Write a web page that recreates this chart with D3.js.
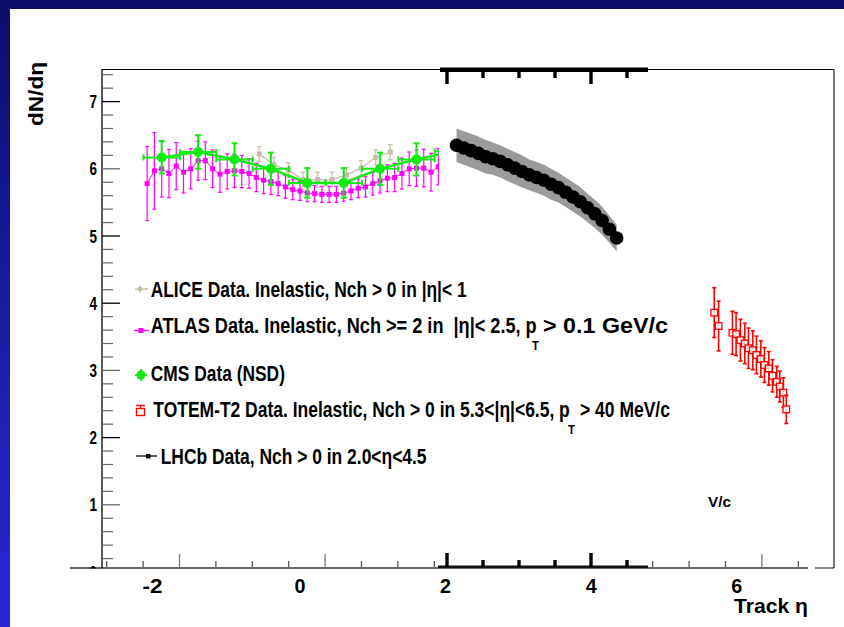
<!DOCTYPE html>
<html><head><meta charset="utf-8">
<script src="https://cdn.jsdelivr.net/npm/d3@7"></script>
<style>
html,body{margin:0;padding:0;background:#fff;}
svg{display:block;}
text{font-family:"Liberation Sans",Arial,Helvetica,sans-serif;font-weight:bold;white-space:pre;fill:#000;}
</style>
</head><body>
<svg id="c" width="844" height="627"></svg>
<script>
// ---------------- data ----------------
const xTickLabels = [-2, 0, 2, 4, 6];
const yTickLabels = [0, 1, 2, 3, 4, 5, 6, 7];

const cmsEta = [-1.9, -1.4, -0.9, -0.4, 0.1, 0.6, 1.1, 1.6, 2.1];
const cmsVal = [6.17, 6.25, 6.14, 6.00, 5.79, 5.79, 6.00, 6.14, 6.26];
const cmsErr = [0.24, 0.25, 0.24, 0.24, 0.22, 0.22, 0.24, 0.24, 0.24];

const aliceEta = [-0.56, -0.36, -0.16, 0.04, 0.24, 0.44, 0.64, 0.84, 1.04, 1.24];
const aliceVal = [6.22, 6.06, 5.98, 5.84, 5.84, 5.84, 5.91, 6.01, 6.17, 6.25];
const aliceErr = [0.11, 0.11, 0.11, 0.11, 0.11, 0.11, 0.11, 0.11, 0.11, 0.11];

const atlasEta = [-2.1, -2.0, -1.9, -1.8, -1.7, -1.6, -1.5, -1.4, -1.3, -1.2, -1.1, -1.0, -0.9, -0.8, -0.7, -0.6, -0.5, -0.4, -0.3, -0.2, -0.1,
                  0.0, 0.1, 0.2, 0.3, 0.4, 0.5, 0.6, 0.7, 0.8, 0.9, 1.0, 1.1, 1.2, 1.3, 1.4, 1.5, 1.6, 1.7, 1.8, 1.9];
const atlasVal = [5.78, 5.97, 6.00, 5.93, 6.04, 5.95, 6.00, 6.12, 6.12, 6.00, 5.92, 5.96, 5.97, 5.96, 5.93, 5.87, 5.83, 5.81, 5.78, 5.73, 5.69,
                  5.67, 5.64, 5.63, 5.62, 5.62, 5.62, 5.64, 5.67, 5.71, 5.73, 5.78, 5.82, 5.86, 5.87, 5.93, 6.00, 6.01, 6.01, 5.95, 6.03];
const atlasErr = [0.55, 0.57, 0.42, 0.36, 0.35, 0.31, 0.30, 0.29, 0.28, 0.28, 0.27, 0.26, 0.25, 0.24, 0.22, 0.21, 0.20, 0.19, 0.18, 0.17, 0.15,
                  0.14, 0.13, 0.12, 0.12, 0.12, 0.12, 0.12, 0.13, 0.14, 0.15, 0.17, 0.18, 0.20, 0.21, 0.23, 0.25, 0.27, 0.28, 0.28, 0.27];

const lhcbEta = [2.15, 2.25, 2.35, 2.45, 2.55, 2.65, 2.75, 2.85, 2.95, 3.05, 3.15, 3.25, 3.35, 3.45, 3.55, 3.65, 3.75, 3.85, 3.95, 4.05, 4.15, 4.25, 4.35];
const lhcbVal = [6.35, 6.31, 6.27, 6.23, 6.18, 6.15, 6.11, 6.06, 6.01, 5.96, 5.91, 5.87, 5.83, 5.77, 5.72, 5.65, 5.58, 5.51, 5.42, 5.33, 5.23, 5.10, 4.97];
const lhcbErr = [0.25, 0.25, 0.25, 0.25, 0.25, 0.24, 0.24, 0.24, 0.24, 0.24, 0.23, 0.23, 0.23, 0.23, 0.22, 0.22, 0.22, 0.22, 0.21, 0.21, 0.21, 0.20, 0.20];
const lhcbAxisTicks = [2.0, 2.5, 3.0, 3.5, 4.0, 4.5];

const totemEta = [5.69, 5.75, 5.94, 5.99, 6.05, 6.11, 6.16, 6.22, 6.27, 6.33, 6.38, 6.44, 6.49, 6.55, 6.59, 6.64, 6.68];
const totemVal = [3.86, 3.66, 3.56, 3.54, 3.45, 3.40, 3.33, 3.30, 3.23, 3.17, 3.08, 3.03, 2.92, 2.83, 2.76, 2.67, 2.42];
const totemErr = [0.37, 0.37, 0.32, 0.32, 0.31, 0.30, 0.30, 0.29, 0.28, 0.27, 0.26, 0.25, 0.24, 0.23, 0.23, 0.22, 0.21];

const legendLabels = [
  {k:"alice", parts:["ALICE Data. Inelastic, Nch > 0 in |η|< 1"]},
  {k:"atlas", parts:["ATLAS Data. Inelastic, Nch >= 2 in  |η|< 2.5, p", "T", "> 0.1 GeV/c"]},
  {k:"cms",   parts:["CMS Data (NSD)"]},
  {k:"totem", parts:["TOTEM-T2 Data. Inelastic, Nch > 0 in 5.3<|η|<6.5, p", "T", "> 40 MeV/c"]},
  {k:"lhcb",  parts:["LHCb Data, Nch > 0 in 2.0<η<4.5"]}
];

// ---------------- drawing ----------------
const svg = d3.select("#c");
const C = {alice:"#c4bea8", atlas:"#ff00ff", cms:"#14ea14", totem:"#ff0000", lhcb:"#000"};

const x = d3.scaleLinear().domain([0, 6]).range([300, 736.8]);
const y = d3.scaleLinear().domain([0, 7.5]).range([572, 68]);
const xb = d3.scaleLinear().domain([-1, 8.5]).range([106.7, 798.3]);   // underlying bottom axis ticks
const xl = d3.scaleLinear().domain([2, 4.5]).range([447, 627]);        // LHCb panel axis

// text squeezed horizontally to a target width (condensed look)
function fitText(parent, str, px, py, size, width, anchor, rot){
  const t = parent.append("text").attr("x",0).attr("y",0).attr("font-size",size).text(str);
  const w = t.node().getComputedTextLength();
  const sx = width / w;
  let dx = 0;
  if (anchor === "middle") dx = -width/2;
  if (anchor === "end") dx = -width;
  t.attr("transform", `translate(${px},${py})` + (rot ? ` rotate(${rot})` : "") + ` translate(${dx},0) scale(${sx},1)`);
  return t;
}

// background
const defs = svg.append("defs");
const g1 = defs.append("linearGradient").attr("id","lg").attr("x1",0).attr("y1",0).attr("x2",0).attr("y2",1);
g1.append("stop").attr("offset","0%").attr("stop-color","#0b0e6c");
g1.append("stop").attr("offset","100%").attr("stop-color","#2828d6");
svg.append("rect").attr("x",0).attr("y",0).attr("width",844).attr("height",627).attr("fill","#fff");
svg.append("rect").attr("x",0).attr("y",0).attr("width",844).attr("height",9).attr("fill","#0b0e6c");
svg.append("rect").attr("x",0).attr("y",0).attr("width",10).attr("height",627).attr("fill","url(#lg)");

defs.append("clipPath").attr("id","clip0").append("rect").attr("x",60).attr("y",540).attr("width",60).attr("height",28.5);

// frame
svg.append("line").attr("x1",102).attr("x2",834).attr("y1",69.5).attr("y2",69.5).attr("stroke","#000").attr("stroke-width",1.2);
svg.append("line").attr("x1",834).attr("x2",834).attr("y1",69).attr("y2",568).attr("stroke","#777").attr("stroke-width",2);
svg.append("line").attr("x1",815).attr("x2",834).attr("y1",568).attr("y2",568).attr("stroke","#333").attr("stroke-width",1.2);

// bottom axis (line + ticks)
svg.append("line").attr("x1",70).attr("x2",808).attr("y1",568).attr("y2",568).attr("stroke","#333").attr("stroke-width",1.5);
const bTicks = d3.range(-1, 8.51, 0.5);
svg.append("g").selectAll("line").data(bTicks).join("line")
  .attr("x1",d=>xb(d)).attr("x2",d=>xb(d))
  .attr("y1",d=> (d % 2 === 0) ? 554 : 561).attr("y2",567)
  .attr("stroke",d=> (d % 2 === 0) ? "#777" : "#555").attr("stroke-width",1.3);

// y axis
svg.append("line").attr("x1",102).attr("x2",102).attr("y1",69).attr("y2",568).attr("stroke","#000").attr("stroke-width",1.3);
const minorT = d3.range(0.2, 7.45, 0.2).filter(v => Math.abs(v - Math.round(v)) > 0.05);
svg.append("g").selectAll("line").data(minorT).join("line")
  .attr("x1",102).attr("x2",113).attr("y1",d=>y(d)).attr("y2",d=>y(d))
  .attr("stroke","#666").attr("stroke-width",1.2);
svg.append("g").selectAll("line").data(yTickLabels.filter(v=>v>0)).join("line")
  .attr("x1",102).attr("x2",120).attr("y1",d=>y(d)).attr("y2",d=>y(d))
  .attr("stroke",d=> d===6||d===3||d===1 ? "#666" : "#000").attr("stroke-width",1.3);
const yl = svg.append("g");
yTickLabels.forEach(v=>{
  const t = fitText(yl, String(v), 97, y(v)+6.5, 17.5, 7.5, "end");
  if (v === 0) { t.remove(); yl.append("g").attr("clip-path","url(#clip0)").call(gg=>fitText(gg, "0", 97, y(0)+6.5, 17.5, 7.5, "end")); }
});

// x tick labels
const xlab = svg.append("g");
xTickLabels.forEach(v=>{
  fitText(xlab, v<0 ? "-" + Math.abs(v) : String(v), x(v) - (v<0?2:0), 593, 21, v<0 ? 20 : 11, "middle");
});

// generic helpers
function errBars(g, eta, val, err, color, capW, sw){
  const d = eta.map((e,i)=>({e, v:val[i], s:err[i]}));
  g.selectAll(null).data(d).join("line")
    .attr("x1",p=>x(p.e)).attr("x2",p=>x(p.e)).attr("y1",p=>y(p.v+p.s)).attr("y2",p=>y(p.v-p.s))
    .attr("stroke",color).attr("stroke-width",sw);
  ["+","-"].forEach(sg=>{
    g.selectAll(null).data(d).join("line")
      .attr("x1",p=>x(p.e)-capW).attr("x2",p=>x(p.e)+capW)
      .attr("y1",p=>y(sg==="+"?p.v+p.s:p.v-p.s)).attr("y2",p=>y(sg==="+"?p.v+p.s:p.v-p.s))
      .attr("stroke",color).attr("stroke-width",sw);
  });
  return d;
}
const lineGen = d3.line().x(p=>x(p.e)).y(p=>y(p.v));

// ALICE
{
  const g = svg.append("g");
  const d = errBars(g, aliceEta, aliceVal, aliceErr, C.alice, 2.5, 1.2);
  g.append("path").datum(d).attr("d",lineGen).attr("fill","none").attr("stroke",C.alice).attr("stroke-width",1.2);
  g.selectAll(null).data(d).join("rect").attr("x",p=>x(p.e)-2.5).attr("y",p=>y(p.v)-2.5).attr("width",5).attr("height",5).attr("fill",C.alice);
}
// ATLAS
{
  const g = svg.append("g");
  const d = errBars(g, atlasEta, atlasVal, atlasErr, C.atlas, 2, 1.2);
  g.append("path").datum(d).attr("d",lineGen).attr("fill","none").attr("stroke",C.atlas).attr("stroke-width",1);
  g.selectAll(null).data(d).join("rect").attr("x",p=>x(p.e)-2.5).attr("y",p=>y(p.v)-2.5).attr("width",5).attr("height",5).attr("fill",C.atlas);
}
// CMS
{
  const g = svg.append("g");
  const d = errBars(g, cmsEta, cmsVal, cmsErr, C.cms, 3, 2);
  g.selectAll(null).data(d).join("line")
    .attr("x1",p=>x(p.e-0.25)).attr("x2",p=>x(p.e+0.25)).attr("y1",p=>y(p.v)).attr("y2",p=>y(p.v))
    .attr("stroke",C.cms).attr("stroke-width",2);
  [-0.25,0.25].forEach(o=>{
    g.selectAll(null).data(d).join("line")
      .attr("x1",p=>x(p.e+o)).attr("x2",p=>x(p.e+o)).attr("y1",p=>y(p.v)-3).attr("y2",p=>y(p.v)+3)
      .attr("stroke",C.cms).attr("stroke-width",2);
  });
  g.append("path").datum(d).attr("d",lineGen).attr("fill","none").attr("stroke",C.cms).attr("stroke-width",2.5);
  g.selectAll(null).data(d).join("circle").attr("cx",p=>x(p.e)).attr("cy",p=>y(p.v)).attr("r",5).attr("fill",C.cms);
}

// LHCb panel patch
svg.append("rect").attr("x",439).attr("y",72).attr("width",209).attr("height",494).attr("fill","#fff");
svg.append("rect").attr("x",440).attr("y",67.5).attr("width",208).attr("height",4.5).attr("fill","#000");
svg.append("rect").attr("x",438).attr("y",565.5).attr("width",210).attr("height",2.5).attr("fill","#111");
svg.append("g").selectAll("rect").data(lhcbAxisTicks).join("rect")
  .attr("x",d=>xl(d)-1.7).attr("width",3.4)
  .attr("y",71).attr("height",d=> (d===2||d===4) ? 13 : 7).attr("fill","#000");
svg.append("g").selectAll("rect").data(lhcbAxisTicks).join("rect")
  .attr("x",d=>xl(d)-1.7).attr("width",3.4)
  .attr("y",d=> (d===2||d===4) ? 553 : 560).attr("height",d=> (d===2||d===4) ? 14 : 7).attr("fill","#000");

// LHCb data
{
  const d = lhcbEta.map((e,i)=>({e, v:lhcbVal[i], s:lhcbErr[i]}));
  const area = d3.area().x(p=>x(p.e)).y0(p=>y(p.v-p.s)).y1(p=>y(p.v+p.s));
  svg.append("path").datum(d).attr("d",area).attr("fill","#9b9b9b");
  svg.append("g").selectAll("circle").data(d).join("circle")
    .attr("cx",p=>x(p.e)).attr("cy",p=>y(p.v)).attr("r",6.8).attr("fill","#000");
}
// TOTEM
{
  const g = svg.append("g");
  const d = totemEta.map((e,i)=>({e, v:totemVal[i], s:totemErr[i]}));
  d.forEach(p=>{
    const gg = g.append("g");
    gg.append("line").attr("x1",x(p.e)).attr("x2",x(p.e)).attr("y1",y(p.v+p.s)).attr("y2",y(p.v-p.s)).attr("stroke",C.totem).attr("stroke-width",1.6);
    [p.v+p.s, p.v-p.s].forEach(v=>gg.append("line").attr("x1",x(p.e)-2).attr("x2",x(p.e)+2).attr("y1",y(v)).attr("y2",y(v)).attr("stroke",C.totem).attr("stroke-width",1.6));
    gg.append("rect").attr("x",x(p.e)-3.3).attr("y",y(p.v)-3.3).attr("width",6.6).attr("height",6.6)
      .attr("fill","#fff").attr("fill-opacity",0.8).attr("stroke",C.totem).attr("stroke-width",1.3);
  });
}

// legend
const legY = {alice:297, atlas:333, cms:381, totem:417, lhcb:463.5};
const legX = {alice:150.7, atlas:150.7, cms:150.7, totem:153.3, lhcb:160.7};
const legEnd = {alice:466.7, atlas:537, cms:285, totem:570, lhcb:426.7};
const subX = {atlas:[532, 543, 668], totem:[568, 580, 670]};
const lg = svg.append("g");
legendLabels.forEach(L=>{
  const by = legY[L.k];
  fitText(lg, L.parts[0], legX[L.k], by, 21.5, legEnd[L.k]-legX[L.k], "start");
  if (L.parts.length > 1){
    const s = subX[L.k];
    fitText(lg, L.parts[1], s[0], by+17, 13, 7, "start");
    fitText(lg, L.parts[2], s[1], by, 21.5, s[2]-s[1], "start");
  }
});
// legend markers
lg.append("line").attr("x1",135).attr("x2",148).attr("y1",289).attr("y2",289).attr("stroke",C.alice).attr("stroke-width",1.5);
lg.append("rect").attr("x",138).attr("y",287).attr("width",4).attr("height",4).attr("fill",C.alice);
lg.append("line").attr("x1",140).attr("x2",140).attr("y1",285).attr("y2",293).attr("stroke",C.alice).attr("stroke-width",1.2);
lg.append("line").attr("x1",134).attr("x2",149).attr("y1",330.5).attr("y2",330.5).attr("stroke",C.atlas).attr("stroke-width",1.3);
lg.append("rect").attr("x",138.5).attr("y",328).attr("width",5).attr("height",5).attr("fill",C.atlas);
lg.append("circle").attr("cx",141).attr("cy",375).attr("r",4.5).attr("fill",C.cms);
lg.append("line").attr("x1",135).attr("x2",147).attr("y1",375).attr("y2",375).attr("stroke",C.cms).attr("stroke-width",2);
lg.append("line").attr("x1",141).attr("x2",141).attr("y1",369).attr("y2",381).attr("stroke",C.cms).attr("stroke-width",2);
lg.append("line").attr("x1",136).attr("x2",145).attr("y1",405.5).attr("y2",405.5).attr("stroke",C.totem).attr("stroke-width",1.4);
lg.append("line").attr("x1",140.5).attr("x2",140.5).attr("y1",405.5).attr("y2",408).attr("stroke",C.totem).attr("stroke-width",1.4);
lg.append("rect").attr("x",136.5).attr("y",408.5).attr("width",8).attr("height",7).attr("fill","none").attr("stroke",C.totem).attr("stroke-width",1.4);
lg.append("line").attr("x1",136).attr("x2",157).attr("y1",456).attr("y2",456).attr("stroke","#000").attr("stroke-width",1.3);
lg.append("rect").attr("x",146).attr("y",454).attr("width",4.5).attr("height",4.5).attr("fill","#000");

// titles and stray text
fitText(svg, "dN/dη", 43, 94, 20, 64, "middle", -90);
fitText(svg, "Track η", 734, 613, 20, 74, "start");
fitText(svg, "V/c", 708, 507, 15, 23, "start");
</script>
</body></html>
